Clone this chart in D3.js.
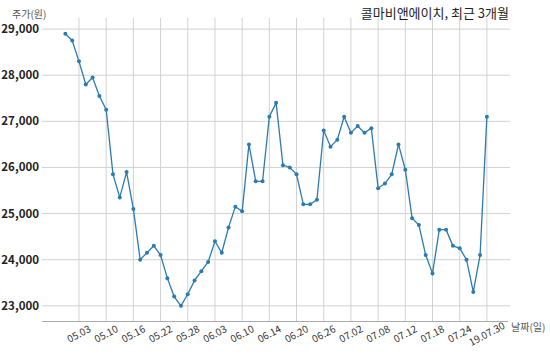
<!DOCTYPE html>
<html><head><meta charset="utf-8">
<script src="https://cdn.jsdelivr.net/npm/d3@7"></script>
<style>
html,body{margin:0;padding:0;background:#fff;}
svg{display:block;font-family:"Noto Sans CJK KR","Noto Sans",sans-serif;}
</style></head>
<body><svg id="c" width="550" height="356"></svg>
<script>
const dates = ["04.30","05.02","05.03","05.07","05.08","05.09","05.10","05.13","05.14","05.15","05.16","05.17","05.20","05.21","05.22","05.23","05.24","05.27","05.28","05.29","05.30","05.31","06.03","06.04","06.05","06.07","06.10","06.11","06.12","06.13","06.14","06.17","06.18","06.19","06.20","06.21","06.24","06.25","06.26","06.27","06.28","07.01","07.02","07.03","07.04","07.05","07.08","07.09","07.10","07.11","07.12","07.15","07.16","07.17","07.18","07.19","07.22","07.23","07.24","07.25","07.26","07.29","07.30"];
const prices = [28900,28750,28300,27800,27950,27550,27250,25850,25350,25900,25100,24000,24150,24300,24100,23600,23200,23000,23250,23550,23750,23950,24400,24150,24700,25150,25050,26500,25700,25700,27100,27400,26050,26000,25850,25200,25200,25300,26800,26450,26600,27100,26750,26900,26750,26850,25550,25650,25850,26500,25950,24900,24750,24100,23700,24650,24650,24300,24250,24000,23300,24100,27100];
const tickDates = ["05.03","05.10","05.16","05.22","05.28","06.03","06.10","06.14","06.20","06.26","07.02","07.08","07.12","07.18","07.24","07.30"];
const tickLabels = ["05.03","05.10","05.16","05.22","05.28","06.03","06.10","06.14","06.20","06.26","07.02","07.08","07.12","07.18","07.24","19.07.30"];
const yTicks = [23000,24000,25000,26000,27000,28000,29000];
const title = "콜마비앤에이치, 최근 3개월";
const yLabel = "주가(원)";
const xLabel = "날짜(일)";

const svg = d3.select("#c");
const L = 42, R = 510, T = 18, B = 321.5;
const x = d3.scaleLinear().domain([-3.44, 65.4]).range([L, R]);
const y = d3.scaleLinear().domain([22660, 29240]).range([B, T]);
const color = "#2b7bb0";
const grid = "#d2d2d2";

// horizontal grid
svg.append("g").selectAll("line").data(yTicks).join("line")
  .attr("x1", L).attr("x2", R)
  .attr("y1", d => y(d)).attr("y2", d => y(d))
  .attr("stroke", grid).attr("stroke-width", 1);
// vertical grid
const tickIdx = tickDates.map(t => dates.indexOf(t));
svg.append("g").selectAll("line").data(tickIdx).join("line")
  .attr("x1", d => x(d)).attr("x2", d => x(d))
  .attr("y1", T).attr("y2", B)
  .attr("stroke", grid).attr("stroke-width", 1);
// bottom axis line
svg.append("line").attr("x1", L).attr("x2", R - 2).attr("y1", B).attr("y2", B)
  .attr("stroke", "#aaa").attr("stroke-width", 1);

// y tick labels
svg.append("g").selectAll("text").data(yTicks).join("text")
  .attr("x", 39).attr("y", d => y(d)).attr("dy", "0.35em")
  .attr("text-anchor", "end").attr("font-size", 11.5).attr("font-weight", 600)
  .attr("fill", "#222").text(d => d3.format(",")(d));

// x tick labels
svg.append("g").selectAll("text").data(tickIdx).join("text")
  .attr("transform", d => `translate(${x(d)},334) rotate(-28)`)
  .attr("text-anchor", "middle").attr("dy", "0.35em")
  .attr("font-size", 10).attr("fill", "#333")
  .text((d, i) => tickLabels[i]);

// line
const pts = prices.map((v, i) => [i, v]);
svg.append("path").datum(pts)
  .attr("d", d3.line().x(d => x(d[0])).y(d => y(d[1])))
  .attr("fill", "none").attr("stroke", color).attr("stroke-width", 1.3);
svg.append("g").selectAll("circle").data(pts).join("circle")
  .attr("cx", d => x(d[0])).attr("cy", d => y(d[1])).attr("r", 2)
  .attr("fill", color);

// labels
svg.append("text").attr("x", 509).attr("y", 13).attr("dy", "0.35em")
  .attr("text-anchor", "end").attr("font-size", 13).attr("fill", "#222").text(title);
svg.append("text").attr("x", 12).attr("y", 14).attr("dy", "0.35em")
  .attr("font-size", 10).attr("fill", "#555").text(yLabel);
svg.append("text").attr("x", 511).attr("y", 327).attr("dy", "0.35em")
  .attr("font-size", 10).attr("fill", "#555").text(xLabel);
</script></body></html>
